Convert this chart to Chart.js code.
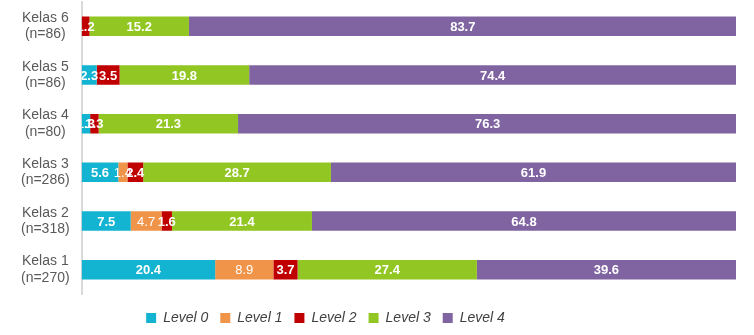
<!DOCTYPE html>
<html>
<head>
<meta charset="utf-8">
<script src="https://cdn.jsdelivr.net/npm/chart.js@4"></script>
<style>
  html, body { margin: 0; padding: 0; background: #fff; }
</style>
</head>
<body>
<canvas id="chart" width="754" height="335"></canvas>
<script>
const categories = [
    ['Kelas 6', '(n=86)'],
    ['Kelas 5', '(n=86)'],
    ['Kelas 4', '(n=80)'],
    ['Kelas 3', '(n=286)'],
    ['Kelas 2', '(n=318)'],
    ['Kelas 1', '(n=270)'],
];
const seriesNames = ['Level 0', 'Level 1', 'Level 2', 'Level 3', 'Level 4'];
const level0 = [0, 2.3, 1.3, 5.6, 7.5, 20.4];
const level1 = [0, 0, 0, 1.4, 4.7, 8.9];
const level2 = [1.2, 3.5, 1.3, 2.4, 1.6, 3.7];
const level3 = [15.2, 19.8, 21.3, 28.7, 21.4, 27.4];
const level4 = [83.7, 74.4, 76.3, 61.9, 64.8, 39.6];
const seriesColors = ['#12B4D1', '#F0944A', '#C00000', '#92C623', '#8064A2'];

// draws the value in the middle of every segment
const valueLabels = {
    id: 'valueLabels',
    afterDatasetsDraw(chart) {
        const ctx = chart.ctx;
        const area = chart.chartArea;
        ctx.save();
        ctx.beginPath();
        ctx.rect(area.left, area.top, area.right - area.left, area.bottom - area.top);
        ctx.clip();
        ctx.fillStyle = '#fff';
        ctx.textAlign = 'center';
        ctx.textBaseline = 'middle';
        chart.data.datasets.forEach((ds, i) => {
            ctx.font = (i === 1 ? '' : 'bold ') + '13px "Liberation Sans", Arial, sans-serif';
            chart.getDatasetMeta(i).data.forEach((bar, j) => {
                const v = ds.data[j];
                if (!v) return;
                ctx.fillText(v.toFixed(1), (bar.x + bar.base) / 2, bar.y + 1);
            });
        });
        ctx.restore();
    }
};

// the legend sits a bit left of centre and lower in the original
const legendShift = {
    id: 'legendShift',
    afterLayout(chart) {
        chart.legend.left -= 51;
        chart.legend.right -= 51;
        chart.legend.top += 5;
        chart.legend.bottom += 5;
    }
};

const values = [level0, level1, level2, level3, level4];
new Chart(document.getElementById('chart'), {
    type: 'bar',
    data: {
        labels: categories,
        datasets: values.map((data, i) => ({
            label: seriesNames[i],
            data: data,
            backgroundColor: seriesColors[i],
            borderWidth: 0,
            barPercentage: 0.8,
            categoryPercentage: 0.5,
        })),
    },
    options: {
        indexAxis: 'y',
        responsive: false,
        animation: false,
        layout: { padding: { top: 2, right: 18, left: 17, bottom: 5 } },
        plugins: {
            tooltip: { enabled: false },
            legend: {
                position: 'bottom',
                labels: {
                    boxWidth: 10,
                    boxHeight: 10,
                    padding: 12,
                    color: '#404040',
                    font: { size: 14, family: '"Liberation Sans", Arial, sans-serif', style: 'italic' },
                },
            },
        },
        scales: {
            x: {
                stacked: true,
                min: 0,
                max: 100,
                display: false,
            },
            y: {
                stacked: true,
                grid: { display: false },
                border: { display: true, color: '#d9d9d9', width: 2 },
                afterFit(scale) {
                    scale.paddingTop = 0;
                    scale.paddingBottom = 0;
                },
                ticks: {
                    crossAlign: 'center',
                    color: '#595959',
                    padding: 4,
                    font: { size: 14, family: '"Liberation Sans", Arial, sans-serif', lineHeight: 1.15 },
                },
            },
        },
    },
    plugins: [valueLabels, legendShift],
});
</script>
</body>
</html>
